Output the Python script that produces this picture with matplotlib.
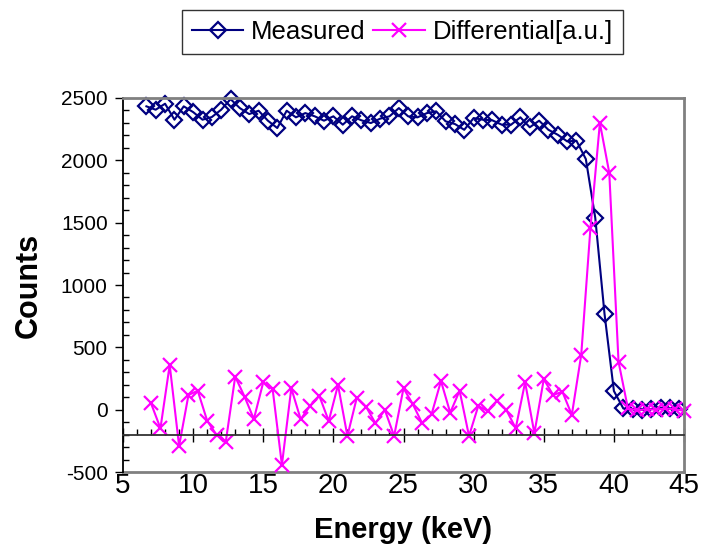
import numpy as np
import matplotlib
matplotlib.use('Agg')
import matplotlib.pyplot as plt
from matplotlib.ticker import MultipleLocator

plt.rcParams['font.family'] = ['Liberation Sans', 'DejaVu Sans']
plt.rcParams['axes.unicode_minus'] = False

# channel energies (keV), 2/3 keV steps
energy_meas = [6.67, 7.33, 8.0, 8.67, 9.33, 10.0, 10.67, 11.33, 12.0, 12.67,
               13.33, 14.0, 14.67, 15.33, 16.0, 16.67, 17.33, 18.0, 18.67, 19.33,
               20.0, 20.67, 21.33, 22.0, 22.67, 23.33, 24.0, 24.67, 25.33, 26.0,
               26.67, 27.33, 28.0, 28.67, 29.33, 30.0, 30.67, 31.33, 32.0, 32.67,
               33.33, 34.0, 34.67, 35.33, 36.0, 36.67, 37.33, 38.0, 38.67, 39.33,
               40.0, 40.67, 41.33, 42.0, 42.67, 43.33, 44.0, 44.67]
measured = [2433, 2406, 2454, 2326, 2433, 2387, 2326, 2347, 2406, 2491,
            2419, 2371, 2398, 2318, 2259, 2398, 2345, 2379, 2353, 2318,
            2353, 2286, 2353, 2321, 2299, 2334, 2353, 2419, 2353,
            2345, 2379, 2393, 2313, 2291, 2245, 2339, 2326, 2321, 2286,
            2286, 2345, 2265, 2318, 2245, 2205, 2152, 2157, 2010,
            1540, 770, 150, 10, 5, 0, 5, 15, 10, 5]

energy_diff = [7.0, 7.67, 8.33, 9.0, 9.67, 10.33, 11.0, 11.67, 12.33, 13.0,
               13.67, 14.33, 15.0, 15.67, 16.33, 17.0, 17.67, 18.33, 19.0, 19.67,
               20.33, 21.0, 21.67, 22.33, 23.0, 23.67, 24.33, 25.0, 25.67, 26.33,
               27.0, 27.67, 28.33, 29.0, 29.67, 30.33, 31.0, 31.67, 32.33, 33.0,
               33.67, 34.33, 35.0, 35.67, 36.33, 37.0, 37.67, 38.33, 39.0, 39.67,
               40.33, 41.0, 41.67, 42.33, 43.0, 43.67, 44.33, 45.0]
differential = [51, -149, 358, -291, 118, 152, -88, -203, -256, 265,
                104, -75, 220, 164, -443, 172, -77, 30, 110,
                -91, 198, -211, 96, 24, -109, -2, -211, 172, 43,
                -109, -37, 230, -24, 152, -211, 30, -10, 72, -2,
                -149, 220, -189, 244, 118, 144, -42, 439, 1460, 2300,
                1900, 385, 10, -5, 5, 0, 10, 5, -10]

navy = '#000080'
magenta = '#FF00FF'
gray = '#808080'

fig = plt.figure(figsize=(7.02, 5.45), dpi=100)
ax = fig.add_axes([0.1752, 0.1339, 0.7992, 0.6863])

l1, = ax.plot(energy_meas, measured, color=navy, lw=1.5, marker='D', ms=8,
              mfc='none', mec=navy, mew=1.6, clip_on=False, label='Measured')
l2, = ax.plot(energy_diff, differential, color=magenta, lw=1.5, marker='x', ms=9.5,
              mew=1.6, clip_on=False, label='Differential[a.u.]')

ax.set_xlim(5, 45)
ax.set_ylim(-500, 2500)
ax.yaxis.set_major_locator(MultipleLocator(500))
ax.yaxis.set_minor_locator(MultipleLocator(100))
ax.xaxis.set_major_locator(MultipleLocator(5))
ax.xaxis.set_minor_locator(MultipleLocator(1))

# x axis line crosses at -200
ax.spines['bottom'].set_position(('data', -200))
ax.spines['bottom'].set_color('#333333')
ax.spines['bottom'].set_linewidth(1.3)
ax.spines['left'].set_color('black')
ax.spines['left'].set_linewidth(1.3)
for s in ['top', 'right']:
    ax.spines[s].set_color(gray)
    ax.spines[s].set_linewidth(2)

ax.tick_params(axis='x', which='major', direction='inout', length=10, width=1, labelbottom=False)
ax.tick_params(axis='x', which='minor', direction='in', length=4, width=1)
ax.tick_params(axis='y', which='major', direction='out', length=5.5, width=1, labelsize=15, pad=5.5)
ax.tick_params(axis='y', which='minor', direction='in', length=4, width=1)

# labels along the bottom of the plot area
sec = ax.secondary_xaxis('bottom')
sec.set_xticks(range(5, 46, 5))
sec.tick_params(length=0, labelsize=20, pad=1)
sec.spines['bottom'].set_color(gray)
sec.spines['bottom'].set_linewidth(2)
sec.set_xlabel('Energy (keV)', fontsize=21, fontweight='bold', labelpad=12)

ax.set_ylabel('Counts', fontsize=22, fontweight='bold', labelpad=12)

leg = fig.legend(handles=[l1, l2], loc='center', bbox_to_anchor=(0.573, 0.941),
                 ncol=2, fontsize=18.5, frameon=True, fancybox=False,
                 edgecolor='black', handlelength=2.0, columnspacing=0.3,
                 handletextpad=0.3, borderpad=0.4, borderaxespad=0)
leg.get_frame().set_linewidth(1)

fig.savefig('out.png', dpi=100)
